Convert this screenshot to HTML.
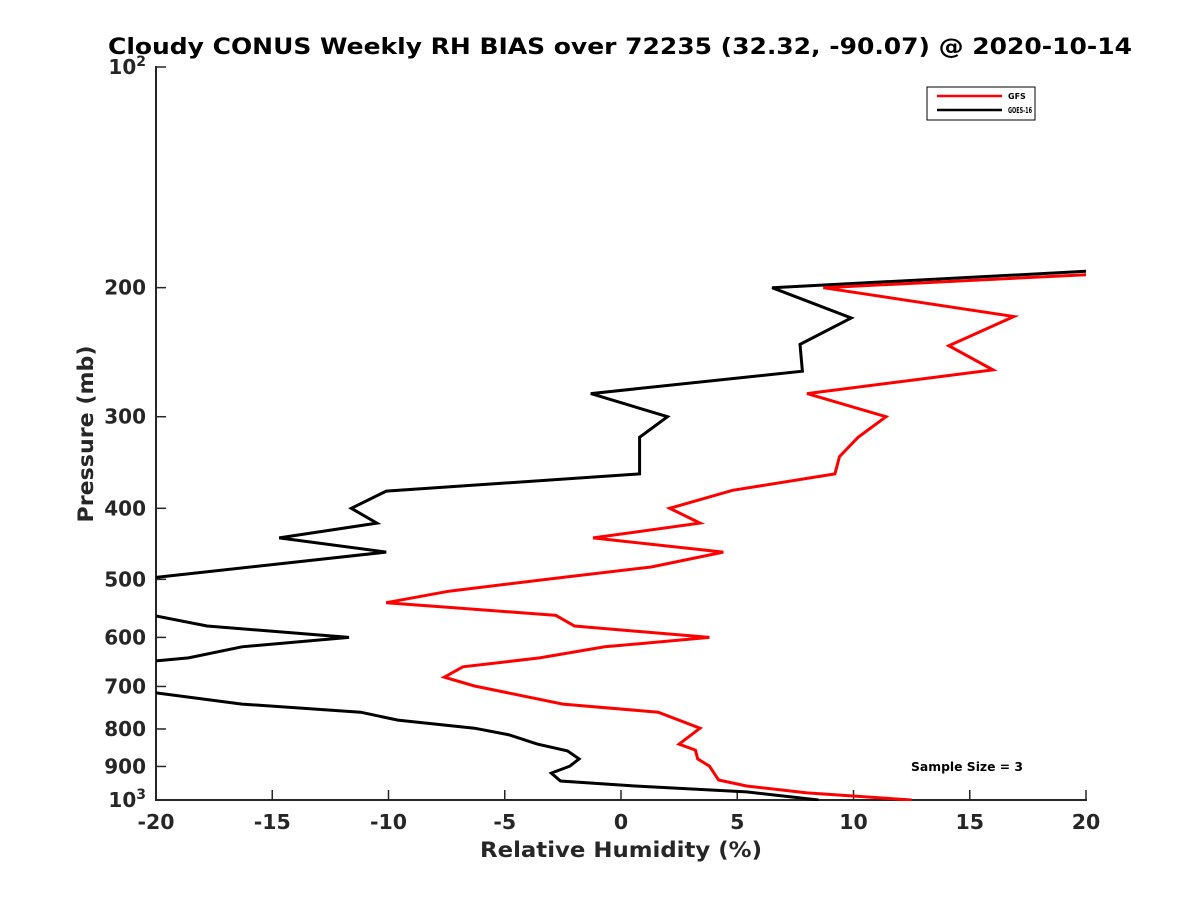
<!DOCTYPE html>
<html><head><meta charset="utf-8"><style>
body{margin:0;background:#fff;}
svg text{font-family:"DejaVu Sans","Liberation Sans",sans-serif;font-weight:bold;fill:#262626;}
</style></head><body>
<svg id="c" width="1200" height="900" viewBox="0 0 1200 900">
<rect width="1200" height="900" fill="#fff"/>
<defs><clipPath id="clip"><rect x="156" y="60" width="930" height="741"/></clipPath></defs>
<text x="620" y="54" text-anchor="middle" font-size="22" textLength="1024" lengthAdjust="spacingAndGlyphs" style="fill:#000">Cloudy CONUS Weekly RH BIAS over 72235 (32.32, -90.07) @ 2020-10-14</text>
<g id="axes"></g>
<g id="series" clip-path="url(#clip)"></g>
<text x="621" y="857" text-anchor="middle" font-size="21" textLength="282" lengthAdjust="spacingAndGlyphs">Relative Humidity (%)</text>
<text transform="translate(93,434) rotate(-90)" text-anchor="middle" font-size="21" textLength="177" lengthAdjust="spacingAndGlyphs">Pressure (mb)</text>
<g>
<rect x="927" y="87" width="108" height="33" fill="#fff" stroke="#000" stroke-width="1"/>
<line x1="937" y1="96" x2="1002" y2="96" stroke="#f00" stroke-width="2.5"/>
<text x="1008" y="99" font-size="8" style="fill:#000">GFS</text>
<line x1="937" y1="110" x2="1002" y2="110" stroke="#000" stroke-width="2.5"/>
<text x="1008" y="113" font-size="8" textLength="24" lengthAdjust="spacingAndGlyphs" style="fill:#000">GOES-16</text>
</g>
<text x="911" y="771" font-size="12" textLength="112" lengthAdjust="spacingAndGlyphs" style="fill:#000">Sample Size = 3</text>
</svg>
<script>
const xTicks=[-20,-15,-10,-5,0,5,10,15,20];
const yTicks=[200,300,400,500,600,700,800,900];
const gfsX=[20,8.7,16.9,14.1,16.0,8.0,11.4,10.2,9.4,9.2,4.8,2.1,3.4,-1.2,4.4,1.3,-2.5,-7.4,-10.1,-7.1,-2.8,-2.0,3.8,-0.7,-3.5,-6.8,-7.6,-6.3,-2.5,1.6,3.4,2.5,3.2,3.3,3.8,4.2,5.4,8.0,12.5];
const gfsP=[192,200,219,240,259,279,300,320,340,359,378,400,419,439,459,481,497,519,538,547,560,579,600,618,640,658,680,699,740,759,798,839,855,879,899,939,957,978,1000];
const goesX=[20,6.5,9.9,7.7,7.8,-1.3,2.0,0.8,0.8,-10.1,-11.6,-10.5,-14.7,-10.1,-20,-21,-21,-20,-17.8,-11.7,-16.3,-18.6,-20,-21,-21,-20,-16.3,-11.2,-9.6,-6.3,-4.8,-3.6,-2.3,-1.8,-2.2,-3.0,-2.6,0.6,5.4,8.5];
const goesP=[190,200,220,239,260,279,300,320,359,379,400,419,439,459,497,505,555,561,579,600,618,640,646,655,705,714,740,759,778,798,815,839,857,879,899,919,942,957,975,1000];
const X0=156,X1=1086,Y0=67,Y1=800;
const sx=v=>X0+(v+20)/40*(X1-X0);
const sy=p=>Y0+Math.log10(p/100)*(Y1-Y0);
const NS='http://www.w3.org/2000/svg';
function mk(tag,attrs,parent){const e=document.createElementNS(NS,tag);for(const k in attrs)e.setAttribute(k,attrs[k]);parent.appendChild(e);return e;}
const ax=document.getElementById('axes');
let l=mk('line',{x1:X0,y1:Y0-1,x2:X0,y2:Y1+1,stroke:'#262626','stroke-width':2},ax);


l=mk('line',{x1:X0-1,y1:Y1,x2:X1+1,y2:Y1,stroke:'#262626','stroke-width':2},ax);


xTicks.forEach(v=>{
 const t=mk('line',{x1:sx(v),y1:Y1,x2:sx(v),y2:Y1-10,stroke:'#262626','stroke-width':1.5},ax);
 
 
 const tx=mk('text',{x:sx(v),y:829,'text-anchor':'middle','font-size':20.5},ax);tx.textContent=String(v);
 
 
});
[100,...yTicks,1000].forEach(p=>{
 const t=mk('line',{x1:X0,y1:sy(p),x2:X0+10,y2:sy(p),stroke:'#262626','stroke-width':1.5},ax);
 
 
 const tx=mk('text',{x:146,y:sy(p)+7,'text-anchor':'end','font-size':20},ax);
 if(p===100||p===1000){tx.textContent='10';const s=mk('tspan',{dy:-8,'font-size':14},tx);s.textContent=p===100?'2':'3';}
 else tx.textContent=String(p);
 
 
});
const sg=document.getElementById('series');
function line(xs,ps,color,name){
 const d=xs.map((v,i)=>(i?'L':'M')+sx(v).toFixed(1)+','+sy(ps[i]).toFixed(1)).join(' ');
 const p=mk('path',{d:d,fill:'none',stroke:color,'stroke-width':3,'stroke-linejoin':'miter'},sg);
 
 
}
line(goesX,goesP,'#000','goes16-line');
line(gfsX,gfsP,'#f00','gfs-line');
</script>
</body></html>
